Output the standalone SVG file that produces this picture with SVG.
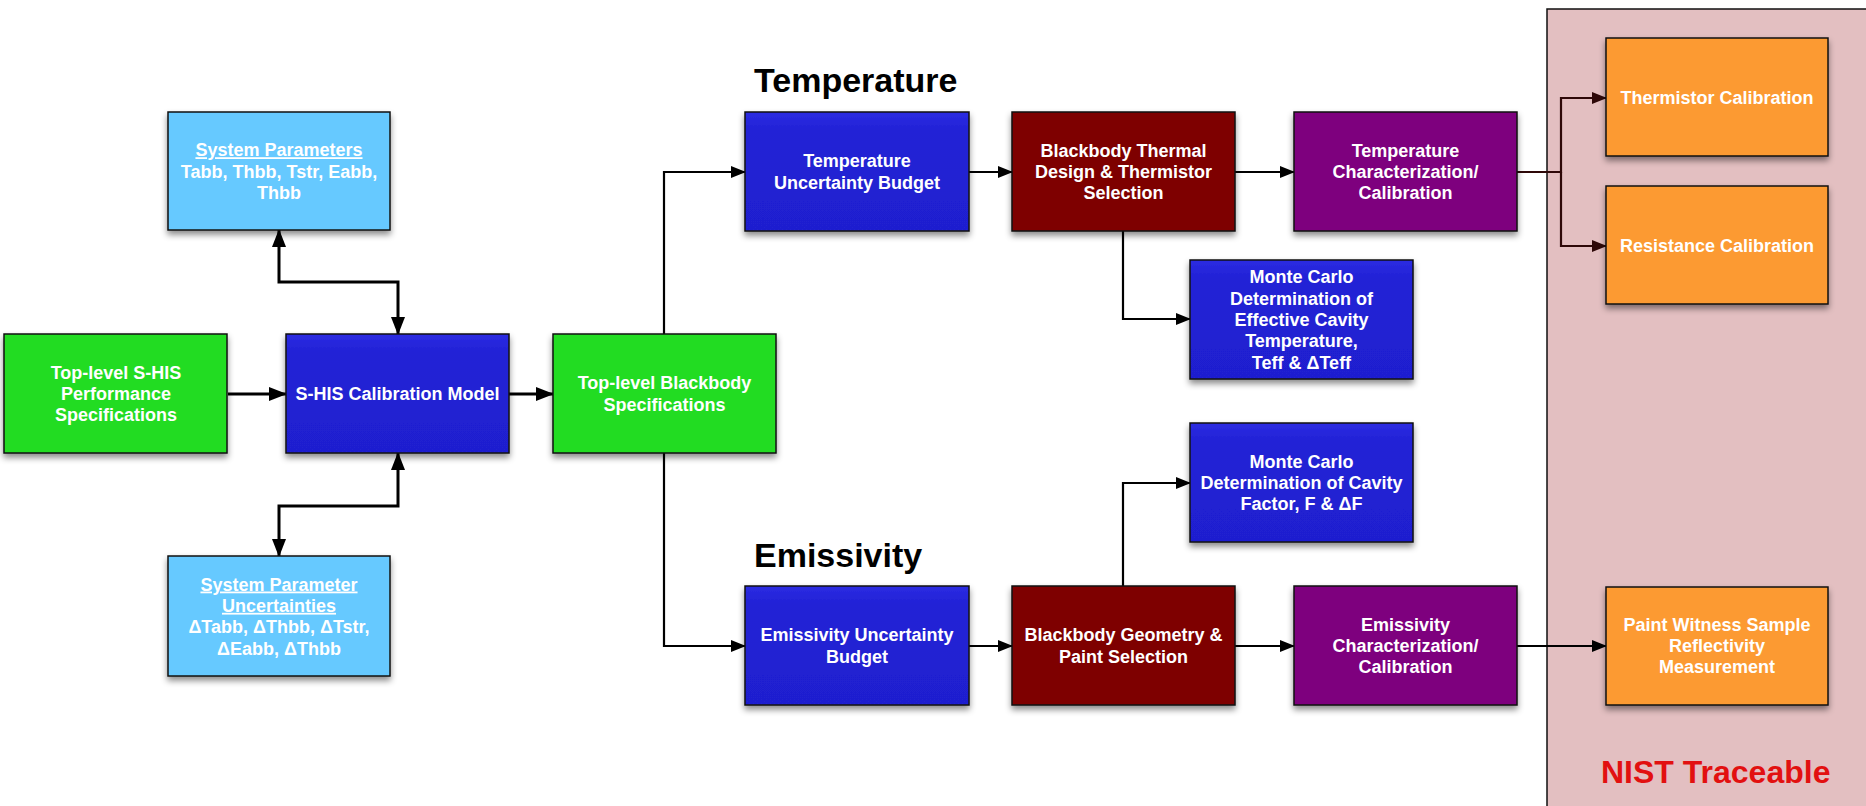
<svg xmlns="http://www.w3.org/2000/svg" width="1866" height="806" viewBox="0 0 1866 806">
<style>
.box{stroke:#111;stroke-width:1.5;filter:url(#sh)}
.green{fill:#22dc22}
.blue{fill:url(#gblue)}
.lblue{fill:#66c9ff}
.red{fill:#7e0000}
.purple{fill:#7e007e}
.orange{fill:#fc9a30}
.t{font-family:"Liberation Sans",Arial,sans-serif;font-weight:bold;font-size:18px;fill:#fff;text-anchor:middle}
.u{text-decoration:underline}
.title{font-family:"Liberation Sans",Arial,sans-serif;font-weight:bold;font-size:34px;fill:#000}
.nist{font-family:"Liberation Sans",Arial,sans-serif;font-weight:bold;font-size:32px;fill:#e21010}
.c{fill:none;stroke:#000;stroke-width:2.2}
.ct{fill:none;stroke:#000;stroke-width:3}
.cp{fill:none;stroke:#2e0808;stroke-width:2.2}
</style>
<defs>
<linearGradient id="gblue" x1="0" y1="0" x2="0" y2="1">
<stop offset="0" stop-color="#2b2be2"/>
<stop offset="0.15" stop-color="#2222d6"/>
<stop offset="1" stop-color="#1f1fcf"/>
</linearGradient>
<filter id="sh" x="-10%" y="-10%" width="120%" height="130%">
<feDropShadow dx="0" dy="4" stdDeviation="3" flood-color="#000" flood-opacity="0.45"/>
</filter>
<marker id="ahl" markerUnits="userSpaceOnUse" markerWidth="18" markerHeight="16" viewBox="0 0 18 16" refX="17" refY="8" orient="auto-start-reverse">
<path d="M0,1 L18,8 L0,15 Z" fill="#000"/>
</marker>
<marker id="ah" markerUnits="userSpaceOnUse" markerWidth="15" markerHeight="14" viewBox="0 0 15 14" refX="14" refY="7" orient="auto-start-reverse">
<path d="M0,1 L15,7 L0,13 Z" fill="#000"/>
</marker>
<marker id="ahp" markerUnits="userSpaceOnUse" markerWidth="15" markerHeight="14" viewBox="0 0 15 14" refX="14" refY="7" orient="auto">
<path d="M0,1 L15,7 L0,13 Z" fill="#2e0808"/>
</marker>
</defs>
<rect width="1866" height="806" fill="#fff"/>
<g id="nist-panel">
<rect x="1547" y="9" width="330" height="810" fill="#e3bfc1" stroke="#111" stroke-width="1.5"/>
<text class="nist" x="1601" y="783">NIST Traceable</text>
</g>
<text class="title" x="754" y="92">Temperature</text>
<text class="title" x="754" y="567">Emissivity</text>
<g id="connectors">
<path class="ct" d="M228,394 H286" marker-end="url(#ahl)"/>
<path class="ct" d="M509,394 H553" marker-end="url(#ahl)"/>
<path class="ct" d="M279,230 V282 H398 V334" marker-start="url(#ahl)" marker-end="url(#ahl)"/>
<path class="ct" d="M398,453 V506 H279 V556" marker-start="url(#ahl)" marker-end="url(#ahl)"/>
<path class="c" d="M664,334 V172 H745" marker-end="url(#ah)"/>
<path class="c" d="M664,453 V646 H745" marker-end="url(#ah)"/>
<path class="c" d="M969,172 H1012" marker-end="url(#ah)"/>
<path class="c" d="M1235,172 H1294" marker-end="url(#ah)"/>
<path class="c" d="M1123,231 V319 H1190" marker-end="url(#ah)"/>
<path class="c" d="M1123,586 V483 H1190" marker-end="url(#ah)"/>
<path class="c" d="M969,646 H1012" marker-end="url(#ah)"/>
<path class="c" d="M1235,646 H1294" marker-end="url(#ah)"/>
<path class="cp" d="M1517,172 H1561 V98 H1606" marker-end="url(#ahp)"/>
<path class="cp" d="M1561,172 V246 H1606" marker-end="url(#ahp)"/>
<path class="c" d="M1517,646 H1606" marker-end="url(#ah)"/>
</g>
<g id="shis-spec">
<rect class="box green" x="4" y="334" width="223" height="119"/>
<text class="t"><tspan x="116" y="378.7">Top-level S-HIS</tspan><tspan x="116" y="400">Performance</tspan><tspan x="116" y="421.3">Specifications</tspan></text>
</g>
<g id="shis-model">
<rect class="box blue" x="286" y="334" width="223" height="119"/>
<text class="t" x="397.5" y="400">S-HIS Calibration Model</text>
</g>
<g id="sys-params">
<rect class="box lblue" x="168" y="112" width="222" height="118"/>
<text class="t"><tspan class="u" x="279" y="156.2">System Parameters</tspan><tspan x="279" y="177.5">Tabb, Thbb, Tstr, Eabb,</tspan><tspan x="279" y="198.8">Thbb</tspan></text>
</g>
<g id="sys-unc">
<rect class="box lblue" x="168" y="556" width="222" height="120"/>
<text class="t"><tspan class="u" x="279" y="590.5">System Parameter</tspan><tspan class="u" x="279" y="611.8">Uncertainties</tspan><tspan x="279" y="633.2">ΔTabb, ΔThbb, ΔTstr,</tspan><tspan x="279" y="654.5">ΔEabb, ΔThbb</tspan></text>
</g>
<g id="bb-spec">
<rect class="box green" x="553" y="334" width="223" height="119"/>
<text class="t"><tspan x="664.5" y="389.3">Top-level Blackbody</tspan><tspan x="664.5" y="410.6">Specifications</tspan></text>
</g>
<g id="temp-unc">
<rect class="box blue" x="745" y="112" width="224" height="119"/>
<text class="t"><tspan x="857" y="167.3">Temperature</tspan><tspan x="857" y="188.6">Uncertainty Budget</tspan></text>
</g>
<g id="bb-thermal">
<rect class="box red" x="1012" y="112" width="223" height="119"/>
<text class="t"><tspan x="1123.5" y="156.7">Blackbody Thermal</tspan><tspan x="1123.5" y="178">Design &amp; Thermistor</tspan><tspan x="1123.5" y="199.3">Selection</tspan></text>
</g>
<g id="temp-char">
<rect class="box purple" x="1294" y="112" width="223" height="119"/>
<text class="t"><tspan x="1405.5" y="156.7">Temperature</tspan><tspan x="1405.5" y="178">Characterization/</tspan><tspan x="1405.5" y="199.3">Calibration</tspan></text>
</g>
<g id="mc-teff">
<rect class="box blue" x="1190" y="260" width="223" height="119"/>
<text class="t"><tspan x="1301.5" y="283.4">Monte Carlo</tspan><tspan x="1301.5" y="304.7">Determination of</tspan><tspan x="1301.5" y="326">Effective Cavity</tspan><tspan x="1301.5" y="347.3">Temperature,</tspan><tspan x="1301.5" y="368.6">Teff &amp; ΔTeff</tspan></text>
</g>
<g id="mc-f">
<rect class="box blue" x="1190" y="423" width="223" height="119"/>
<text class="t"><tspan x="1301.5" y="467.7">Monte Carlo</tspan><tspan x="1301.5" y="489">Determination of Cavity</tspan><tspan x="1301.5" y="510.3">Factor, F &amp; ΔF</tspan></text>
</g>
<g id="em-unc">
<rect class="box blue" x="745" y="586" width="224" height="119"/>
<text class="t"><tspan x="857" y="641.3">Emissivity Uncertainty</tspan><tspan x="857" y="662.6">Budget</tspan></text>
</g>
<g id="bb-geom">
<rect class="box red" x="1012" y="586" width="223" height="119"/>
<text class="t"><tspan x="1123.5" y="641.3">Blackbody Geometry &amp;</tspan><tspan x="1123.5" y="662.6">Paint Selection</tspan></text>
</g>
<g id="em-char">
<rect class="box purple" x="1294" y="586" width="223" height="119"/>
<text class="t"><tspan x="1405.5" y="630.7">Emissivity</tspan><tspan x="1405.5" y="652">Characterization/</tspan><tspan x="1405.5" y="673.3">Calibration</tspan></text>
</g>
<g id="thermistor">
<rect class="box orange" x="1606" y="38" width="222" height="118"/>
<text class="t" x="1717" y="103.5">Thermistor Calibration</text>
</g>
<g id="resistance">
<rect class="box orange" x="1606" y="186" width="222" height="118"/>
<text class="t" x="1717" y="251.5">Resistance Calibration</text>
</g>
<g id="paint">
<rect class="box orange" x="1606" y="587" width="222" height="118"/>
<text class="t"><tspan x="1717" y="630.7">Paint Witness Sample</tspan><tspan x="1717" y="652">Reflectivity</tspan><tspan x="1717" y="673.3">Measurement</tspan></text>
</g>
</svg>
